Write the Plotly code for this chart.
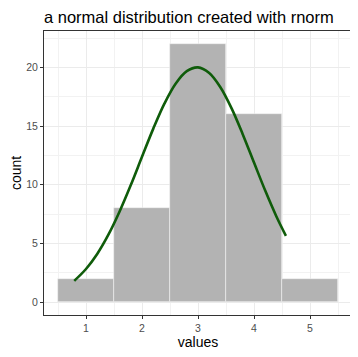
import plotly.graph_objects as go

bin_centers = [1, 2, 3, 4, 5]
counts = [2, 8, 22, 16, 2]

curve_x = [0.79, 1.0, 1.2, 1.4, 1.6, 1.8, 2.0, 2.2, 2.4, 2.6, 2.8, 3.0, 3.2, 3.4, 3.6, 3.8, 4.0, 4.2, 4.4, 4.57]
curve_y = [1.81, 2.82, 4.10, 5.74, 7.72, 9.97, 12.38, 14.76, 16.91, 18.61, 19.68, 20.0, 19.52, 18.31, 16.51, 14.29, 11.89, 9.50, 7.30, 5.65]

x_ticks = [1, 2, 3, 4, 5]
y_ticks = [0, 5, 10, 15, 20]

W, H = 350, 349

fig = go.Figure()
fig.add_trace(go.Bar(x=bin_centers, y=counts, width=1,
                     marker=dict(color="#b3b3b3", line=dict(color="#f2f2f2", width=0.6))))
fig.add_trace(go.Scatter(x=curve_x, y=curve_y, mode="lines",
                         line=dict(color="#0f5c0a", width=2.6, shape="spline")))

fig.update_layout(
    width=W, height=H,
    margin=dict(l=36, r=6, t=23, b=42, autoexpand=False),
    paper_bgcolor="white", plot_bgcolor="white",
    showlegend=False,
    font=dict(family="Liberation Sans, Arial, sans-serif", color="black"),
    title=dict(text="a normal distribution created with rnorm", font=dict(size=16.5, color="black"),
               xref="paper", x=0, xanchor="left", yref="container", y=1 - 9/H, yanchor="middle",
               automargin=False),
    bargap=0,
)
fig.update_xaxes(range=[0.25, 5.75], tickvals=x_ticks, ticktext=[str(v) for v in x_ticks],
                 automargin=False,
                 showgrid=True, gridcolor="#ebebeb", gridwidth=1,
                 minor=dict(tick0=0.5, dtick=1, showgrid=True, gridcolor="#f2f2f2", gridwidth=0.6),
                 ticks="outside", ticklen=3, tickcolor="#333333", tickwidth=1,
                 tickfont=dict(size=10.5, color="#4d4d4d"),
                 showline=True, linecolor="#333333", linewidth=1, mirror=True, zeroline=False,
                 title=dict(text="values", font=dict(size=14, color="black"), standoff=3))
fig.update_yaxes(range=[-1.1, 23.1], tickvals=y_ticks, ticktext=[str(v) for v in y_ticks],
                 automargin=False,
                 showgrid=True, gridcolor="#ebebeb", gridwidth=1,
                 minor=dict(tick0=2.5, dtick=5, showgrid=True, gridcolor="#f2f2f2", gridwidth=0.6),
                 ticks="outside", ticklen=3, tickcolor="#333333", tickwidth=1,
                 tickfont=dict(size=10.5, color="#4d4d4d"),
                 showline=True, linecolor="#333333", linewidth=1, mirror=True, zeroline=False,
                 title=dict(text="count", font=dict(size=14, color="black"), standoff=8))

fig.write_html("out.html")
